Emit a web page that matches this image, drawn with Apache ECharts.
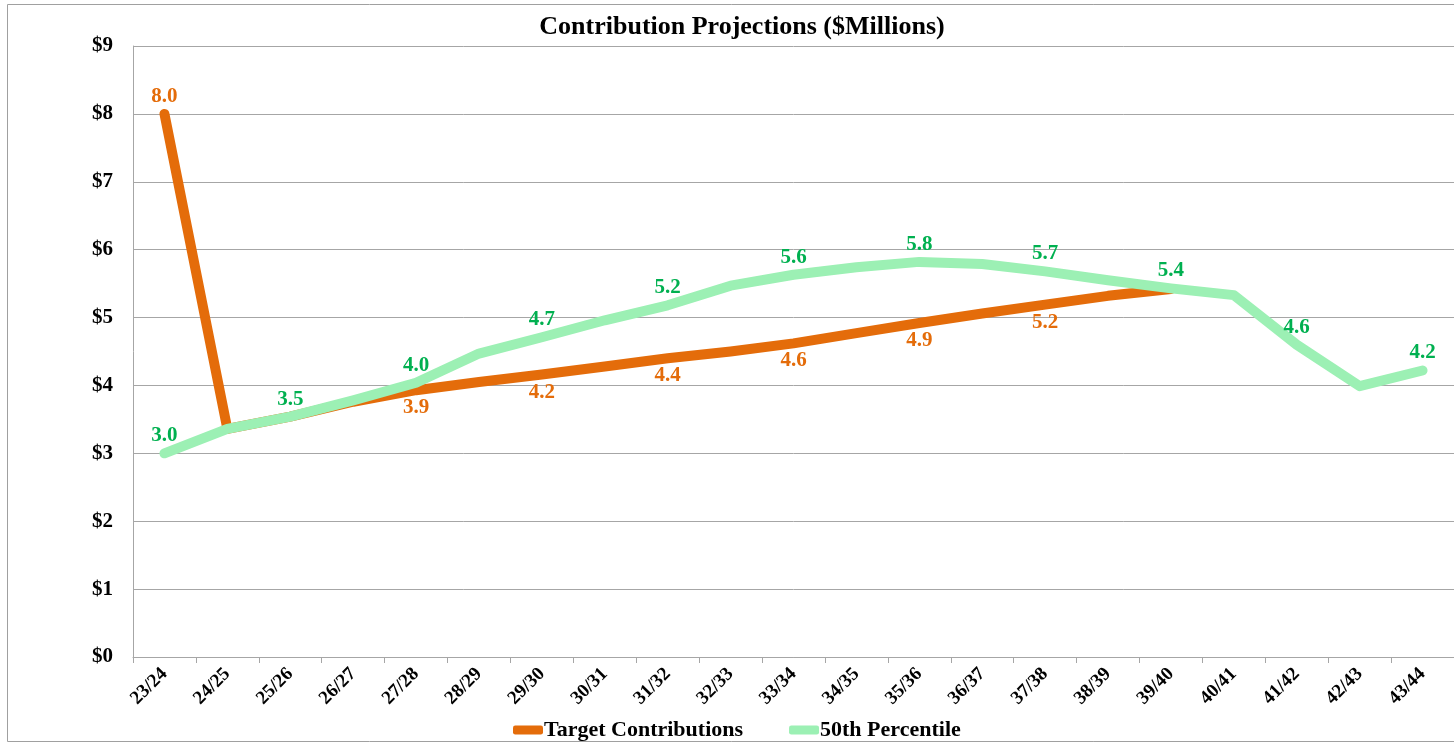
<!DOCTYPE html>
<html>
<head>
<meta charset="utf-8">
<script src="https://cdn.jsdelivr.net/npm/echarts@6/dist/echarts.min.js"></script>
<style>
html,body{margin:0;padding:0;background:#fff;}
#chart{width:1454px;height:746px;}
</style>
</head>
<body>
<div id="chart"></div>
<script>
var categories = ['23/24','24/25','25/26','26/27','27/28','28/29','29/30','30/31','31/32','32/33','33/34','34/35','35/36','36/37','37/38','38/39','39/40','40/41','41/42','42/43','43/44'];
var targetContributions = [8.0, 3.36, 3.54, 3.76, 3.93, 4.05, 4.16, 4.28, 4.40, 4.50, 4.62, 4.77, 4.92, 5.06, 5.19, 5.32, 5.42];
var percentile50 = [3.0, 3.36, 3.54, 3.78, 4.04, 4.47, 4.71, 4.96, 5.18, 5.47, 5.63, 5.74, 5.82, 5.79, 5.68, 5.55, 5.43, 5.33, 4.60, 3.99, 4.22];
var targetLabelIdx = [0, 4, 6, 8, 10, 12, 14];
var percentileLabelIdx = [0, 2, 4, 6, 8, 10, 12, 14, 16, 18, 20];
var yTicks = [0,1,2,3,4,5,6,7,8,9];

var ORANGE = '#E46C0A', GREEN_LINE = '#9CF0B4', GREEN_TEXT = '#00B050';
var FONT = '"Liberation Serif","Times New Roman",serif';

function buildData(values, labelIdx, color, posFn) {
  return values.map(function (v, i) {
    var show = labelIdx.indexOf(i) >= 0;
    return {
      value: v,
      label: {
        show: show,
        position: posFn(i),
        distance: 7,
        formatter: function (p) { return p.value.toFixed(1); },
        color: color,
        fontFamily: FONT,
        fontWeight: 'bold',
        fontSize: 21
      }
    };
  });
}

var chart = echarts.init(document.getElementById('chart'));
chart.setOption({
  animation: false,
  backgroundColor: '#fff',
  title: {
    text: 'Contribution Projections ($Millions)',
    left: 737, top: 9, textAlign: 'center',
    textStyle: { fontFamily: FONT, fontWeight: 'bold', fontSize: 26, color: '#000' }
  },
  graphic: [{
    type: 'rect', shape: { x: 7.5, y: 4.5, width: 1460, height: 737 },
    style: { fill: 'none', stroke: '#A0A0A0', lineWidth: 1 }, silent: true, z: -1
  }],
  legend: {
    bottom: 0, left: 508,
    itemWidth: 30, itemHeight: 9, itemGap: 46,
    icon: 'roundRect',
    textStyle: { fontFamily: FONT, fontWeight: 'bold', fontSize: 22, color: '#000', padding: [0,0,0,-4] },
    data: ['Target Contributions', '50th Percentile']
  },
  grid: { left: 133, right: 0, top: 46, bottom: 89, containLabel: false },
  xAxis: {
    type: 'category', data: categories, boundaryGap: true,
    axisLine: { show: true, lineStyle: { color: '#A6A6A6', width: 1 } },
    axisTick: { show: true, alignWithLabel: false, length: 6, lineStyle: { color: '#A6A6A6' } },
    axisLabel: { rotate: 45, margin: 14, fontFamily: FONT, fontWeight: 'bold', fontSize: 19, color: '#000', interval: 0 }
  },
  yAxis: {
    type: 'value', min: 0, max: 9, interval: 1,
    axisLine: { show: true, lineStyle: { color: '#A6A6A6', width: 1 } },
    axisTick: { show: false },
    splitLine: { show: true, lineStyle: { color: '#A6A6A6', width: 1 } },
    axisLabel: {
      margin: 20, fontFamily: FONT, fontWeight: 'bold', fontSize: 21, color: '#000',
      formatter: function (v) { return yTicks.indexOf(v) >= 0 ? '$' + v : ''; }
    }
  },
  series: [
    {
      name: 'Target Contributions', type: 'line',
      data: buildData(targetContributions, targetLabelIdx, ORANGE, function (i) { return i === 0 ? 'top' : 'bottom'; }),
      symbol: 'circle', symbolSize: 0.1, showSymbol: true,
      itemStyle: { color: ORANGE },
      lineStyle: { color: ORANGE, width: 10, cap: 'round', join: 'round' },
      z: 2
    },
    {
      name: '50th Percentile', type: 'line',
      data: buildData(percentile50, percentileLabelIdx, GREEN_TEXT, function () { return 'top'; }),
      symbol: 'circle', symbolSize: 0.1, showSymbol: true,
      itemStyle: { color: GREEN_LINE },
      lineStyle: { color: GREEN_LINE, width: 10, cap: 'round', join: 'round' },
      z: 3
    }
  ]
});
</script>
</body>
</html>
